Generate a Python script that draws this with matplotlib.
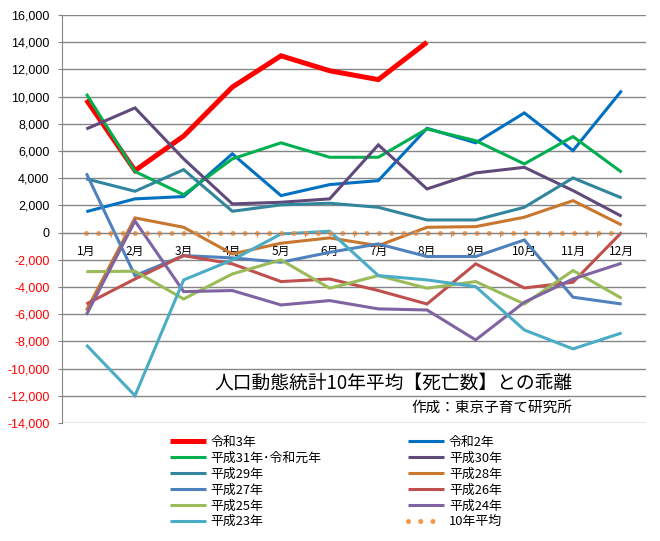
import matplotlib.pyplot as plt
from matplotlib.ticker import FuncFormatter
import numpy as np

months = ['1月', '2月', '3月', '4月', '5月', '6月', '7月', '8月', '9月', '10月', '11月', '12月']

r3 = [9760, 4560, 7100, 10700, 13000, 11900, 11250, 14000]
r2 = [1540, 2480, 2650, 5790, 2720, 3530, 3820, 7670, 6600, 8800, 6030, 10440]
h31 = [10200, 4490, 2790, 5420, 6600, 5540, 5540, 7620, 6760, 5050, 7060, 4440]
h30 = [7620, 9170, 5420, 2110, 2230, 2480, 6450, 3210, 4390, 4800, 3090, 1200]
h29 = [3950, 3040, 4630, 1570, 2040, 2160, 1860, 930, 930, 1860, 4020, 2550]
h28 = [-5730, 1080, 390, -1570, -780, -390, -960, 390, 440, 1130, 2350, 560]
h27 = [4360, -3160, -1690, -1860, -2180, -1450, -830, -1760, -1760, -540, -4750, -5250]
h26 = [-5250, -3410, -1690, -2300, -3600, -3410, -4260, -5250, -2300, -4070, -3650, 20]
h25 = [-2870, -2840, -4880, -3040, -2010, -4090, -3160, -4090, -3600, -5250, -2790, -4830]
h24 = [-6050, 850, -4340, -4260, -5320, -5000, -5610, -5690, -7890, -5120, -3410, -2250]
h23 = [-8260, -11990, -3480, -2010, -100, 100, -3160, -3480, -3970, -7160, -8550, -7380]
avg10 = [0] * 12

series = [
    ('令和3年', r3, '#FF0000', 3.6),
    ('令和2年', r2, '#0070C0', 2.2),
    ('平成31年･令和元年', h31, '#00B050', 2.2),
    ('平成30年', h30, '#604A7B', 2.2),
    ('平成29年', h29, '#31859C', 2.2),
    ('平成28年', h28, '#C8772F', 2.2),
    ('平成27年', h27, '#4F81BD', 2.2),
    ('平成26年', h26, '#C0504D', 2.2),
    ('平成25年', h25, '#9BBB59', 2.2),
    ('平成24年', h24, '#8064A2', 2.2),
    ('平成23年', h23, '#4BACC6', 2.2),
]

plt.rcParams['font.family'] = ['Noto Sans CJK JP', 'DejaVu Sans']

fig = plt.figure(figsize=(6.6, 5.41), dpi=100)
ax = fig.add_axes([62 / 660, 118 / 541, 584 / 660, 408 / 541])

handles = {}
for label, vals, color, lw in series:
    x = np.arange(1, len(vals) + 1)
    h, = ax.plot(x, vals, color=color, lw=lw, label=label,
                 solid_joinstyle='miter', solid_capstyle='butt')
    handles[label] = h
h, = ax.plot(np.arange(1, 13), avg10, color='#F79646', lw=3.6,
             linestyle=(0, (0.001, 2.44)), dash_capstyle='round', label='10年平均')
handles['10年平均'] = h

ax.set_xlim(0.5, 12.5)
ax.set_ylim(-14000, 16000)
ax.set_yticks(np.arange(-14000, 16001, 2000))
ax.yaxis.set_major_formatter(FuncFormatter(lambda v, p: f'{int(v):,}'))
ax.grid(axis='y', color='#868686', lw=1)
ax.set_axisbelow(True)

for s in ['top', 'right']:
    ax.spines[s].set_visible(False)
ax.spines['left'].set_color('#868686')
ax.spines['bottom'].set_position(('data', 0))
ax.spines['bottom'].set_color('#868686')

ax.set_xticks(np.arange(1, 13))
ax.set_xticklabels(months, fontsize=8.5)
ax.set_xticks(np.arange(0.5, 12.6, 1), minor=True)
ax.tick_params(axis='x', which='major', length=0, pad=9)
ax.tick_params(axis='x', which='minor', length=3, color='#868686')
ax.tick_params(axis='y', length=3, color='#868686', pad=6)
for v, t in zip(ax.get_yticks(), ax.get_yticklabels()):
    t.set_fontfamily('Liberation Sans')
    t.set_fontsize(9)
    t.set_color('red' if v < 0 else 'black')

fig.text(393 / 660, 1 - 383 / 541, '人口動態統計10年平均【死亡数】との乖離',
         ha='center', va='center', fontsize=13.5)
fig.text(572 / 660, 1 - 408 / 541, '作成：東京子育て研究所',
         ha='right', va='center', fontsize=10.5)

order = ['令和3年', '平成31年･令和元年', '平成29年', '平成27年', '平成25年', '平成23年',
         '令和2年', '平成30年', '平成28年', '平成26年', '平成24年', '10年平均']
fig.legend([handles[k] for k in order], order, ncol=2, frameon=False,
           loc='upper left', bbox_to_anchor=(170 / 660, 1 - 436 / 541),
           fontsize=9.3, handlelength=2.8, handletextpad=0.35, borderpad=0,
           borderaxespad=0, labelspacing=0.22, columnspacing=6.7)

fig.savefig('out.png', dpi=100)
